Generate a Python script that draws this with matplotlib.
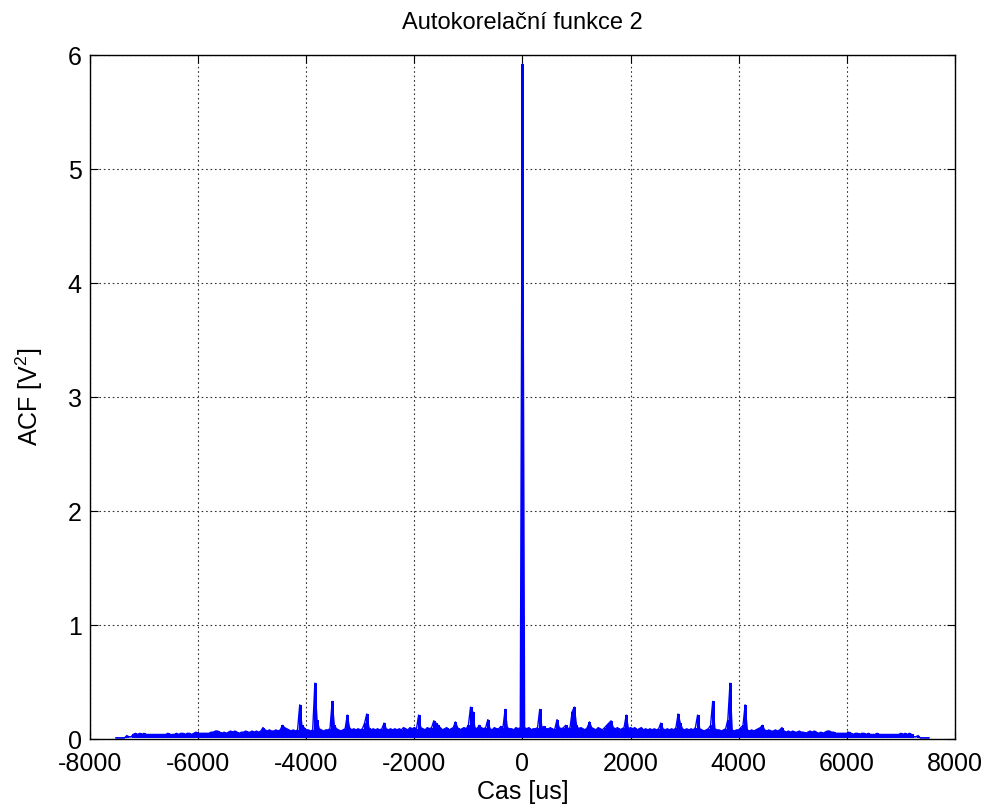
import numpy as np
import matplotlib
matplotlib.use("Agg")
import matplotlib.pyplot as plt

plt.rcParams['font.family'] = ['Liberation Sans', 'DejaVu Sans']
plt.rcParams['mathtext.fontset'] = 'custom'
plt.rcParams['mathtext.rm'] = 'Liberation Sans'
plt.rcParams['axes.unicode_minus'] = False

## lag step of the autocorrelation [us], positive side only (ACF is symmetric)
lag_step = 40
acf_pos = [
    5.92, 0.10, 0.09, 0.10, 0.08, 0.09, 0.09, 0.10, 0.26, 0.10,   # 0 - 360
    0.11, 0.09, 0.09, 0.10, 0.08, 0.09, 0.17, 0.10, 0.09, 0.10,   # 400 - 760
    0.12, 0.09, 0.10, 0.24, 0.28, 0.12, 0.09, 0.10, 0.09, 0.08,   # 800 - 1160
    0.10, 0.15, 0.10, 0.09, 0.08, 0.10, 0.09, 0.08, 0.10, 0.12,   # 1200 - 1560
    0.14, 0.16, 0.10, 0.09, 0.10, 0.08, 0.09, 0.10, 0.21, 0.09,   # 1600 - 1960
    0.10, 0.09, 0.10, 0.08, 0.09, 0.10, 0.08, 0.09, 0.08, 0.09,   # 2000 - 2360
    0.08, 0.09, 0.08, 0.09, 0.14, 0.09, 0.08, 0.09, 0.08, 0.09,   # 2400 - 2760
    0.08, 0.10, 0.22, 0.14, 0.09, 0.08, 0.09, 0.08, 0.09, 0.08,   # 2800 - 3160
    0.10, 0.21, 0.09, 0.08, 0.07, 0.08, 0.09, 0.12, 0.33, 0.09,   # 3200 - 3560
    0.08, 0.08, 0.07, 0.08, 0.09, 0.17, 0.49, 0.08, 0.07, 0.08,   # 3600 - 3960
    0.08, 0.10, 0.12, 0.30, 0.08, 0.07, 0.08, 0.07, 0.08, 0.09,   # 4000 - 4360
    0.10, 0.12, 0.08, 0.07, 0.08, 0.07, 0.07, 0.08, 0.07, 0.08,   # 4400 - 4760
    0.10, 0.07, 0.06, 0.07, 0.06, 0.07, 0.06, 0.06, 0.07, 0.06,   # 4800 - 5160
    0.06, 0.05, 0.06, 0.07, 0.06, 0.07, 0.06, 0.05, 0.06, 0.05,   # 5200 - 5560
    0.06, 0.07, 0.07, 0.06, 0.06, 0.05, 0.05, 0.05, 0.05, 0.05,   # 5600 - 5960
    0.05, 0.06, 0.05, 0.04, 0.05, 0.05, 0.04, 0.05, 0.05, 0.04,   # 6000 - 6360
    0.05, 0.04, 0.04, 0.04, 0.05, 0.04, 0.04, 0.04, 0.04, 0.04,   # 6400 - 6760
    0.04, 0.04, 0.04, 0.04, 0.04, 0.05, 0.04, 0.05, 0.04, 0.05,   # 6800 - 7160
    0.04, 0.02, 0.02, 0.03, 0.01, 0.01, 0.01, 0.01, 0.01,         # 7200 - 7520
]
acf_floor = 0.02

x_ticks = [-8000, -6000, -4000, -2000, 0, 2000, 4000, 6000, 8000]
y_ticks = [0, 1, 2, 3, 4, 5, 6]

acf_pos = np.array(acf_pos)
lag_pos = np.arange(len(acf_pos)) * lag_step
lags = np.concatenate([-lag_pos[:0:-1], lag_pos])
acf = np.concatenate([acf_pos[:0:-1], acf_pos])

fig = plt.figure(figsize=(9.89, 8.09), dpi=100)
ax = fig.add_axes([0.091, 0.0865, 0.8745, 0.8455])

# comb of samples, joined along the tops and along the floor
ax.vlines(lags, np.minimum(acf, acf_floor), acf, color='#0000ff',
          linewidth=0.75, antialiased=False)
ax.plot(lags, acf, color='#0000ff', linewidth=1.0)
ax.plot(lags, np.minimum(acf, acf_floor), color='#0000ff', linewidth=0.8)

ax.set_xlim(-8000, 8000)
ax.set_ylim(0, 6)
ax.set_xticks(x_ticks)
ax.set_yticks(y_ticks)
ax.set_xticklabels([str(t) for t in x_ticks])
ax.grid(True, linestyle=(0, (1.5, 2.5)), color='#333333', linewidth=0.8)
ax.tick_params(direction='in', length=6, width=0.8, top=True, right=True,
               labelsize=18)
ax.tick_params(axis='x', pad=9)
ax.tick_params(axis='y', pad=6)
for s in ax.spines.values():
    s.set_linewidth(1.0)

ax.set_title('Autokorelační funkce 2', fontsize=17, pad=19)
ax.set_xlabel('Cas [us]', fontsize=18, labelpad=3)
ax.set_ylabel(r'ACF [V$^\mathregular{2}$]', fontsize=18, labelpad=16)

fig.savefig('out.png', dpi=100)
